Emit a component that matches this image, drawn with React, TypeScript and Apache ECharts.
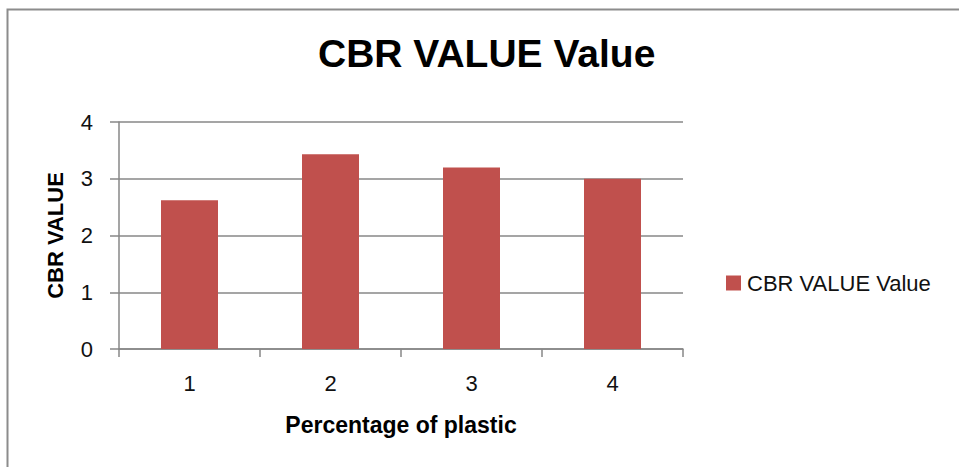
import React, { useEffect, useRef } from "react";
import * as echarts from "echarts";

// Chart data
const categories: string[] = ["1", "2", "3", "4"];
const cbrValues: number[] = [2.62, 3.43, 3.2, 3.0];
const yTicks = { min: 0, max: 4, interval: 1 };

const titleText = "CBR VALUE Value";
const seriesName = "CBR VALUE Value";
const xAxisName = "Percentage of plastic";
const yAxisName = "CBR VALUE";

const FONT = "'Liberation Sans Narrow', 'Arial Narrow', 'Liberation Sans', Arial, sans-serif";
const AXIS_GRAY = "#878787";
const BAR_RED = "#C0504D";

export default function App() {
  const ref = useRef<HTMLDivElement>(null);

  useEffect(() => {
    document.body.style.margin = "0";
    if (!ref.current) return;
    const chart = echarts.init(ref.current, null, { renderer: "svg" });
    chart.setOption({
      animation: false,
      backgroundColor: "#ffffff",
      textStyle: { fontFamily: FONT },
      graphic: [
        {
          type: "rect",
          shape: { x: 7.5, y: 9.5, width: 1200, height: 800 },
          style: { fill: "none", stroke: "#8c8c8c", lineWidth: 2 },
          silent: true,
        },
      ],
      title: {
        text: titleText,
        left: 318,
        top: 34,
        padding: 0,
        textStyle: {
          fontFamily: FONT,
          fontWeight: "bold",
          fontSize: 39,
          color: "#000000",
        },
      },
      legend: {
        left: 726,
        top: 272,
        itemWidth: 15,
        itemHeight: 15,
        itemGap: 6,
        icon: "rect",
        padding: 0,
        textStyle: { fontFamily: FONT, fontSize: 22, color: "#111111", padding: [0, 0, 0, 1] },
        data: [seriesName],
      },
      grid: {
        left: 119,
        right: 276,
        top: 122,
        bottom: 118,
        containLabel: false,
      },
      xAxis: {
        type: "category",
        data: categories,
        boundaryGap: true,
        name: xAxisName,
        nameLocation: "middle",
        nameGap: 64,
        nameTextStyle: {
          fontFamily: FONT,
          fontWeight: "bold",
          fontSize: 23,
          color: "#000000",
        },
        axisLine: { show: true, lineStyle: { color: AXIS_GRAY, width: 1.5 } },
        axisTick: { show: true, length: 8, alignWithLabel: false, lineStyle: { color: AXIS_GRAY, width: 1.5 } },
        axisLabel: { fontFamily: FONT, fontSize: 22, color: "#111111", margin: 23 },
        splitLine: { show: false },
      },
      yAxis: {
        type: "value",
        min: yTicks.min,
        max: yTicks.max,
        interval: yTicks.interval,
        name: yAxisName,
        nameLocation: "middle",
        nameGap: 53,
        nameRotate: 90,
        nameTextStyle: {
          fontFamily: FONT,
          fontWeight: "bold",
          fontSize: 22,
          color: "#000000",
        },
        axisLine: { show: true, lineStyle: { color: AXIS_GRAY, width: 1.5 } },
        axisTick: { show: true, length: 9, inside: false, lineStyle: { color: AXIS_GRAY, width: 1.5 } },
        axisLabel: { fontFamily: FONT, fontSize: 22, color: "#111111", margin: 26 },
        splitLine: { show: true, lineStyle: { color: AXIS_GRAY, width: 1.5 } },
      },
      series: [
        {
          name: seriesName,
          type: "bar",
          data: cbrValues,
          barWidth: 57,
          itemStyle: { color: BAR_RED },
        },
      ],
    });
    return () => chart.dispose();
  }, []);

  return <div ref={ref} style={{ width: 959, height: 467 }} />;
}
